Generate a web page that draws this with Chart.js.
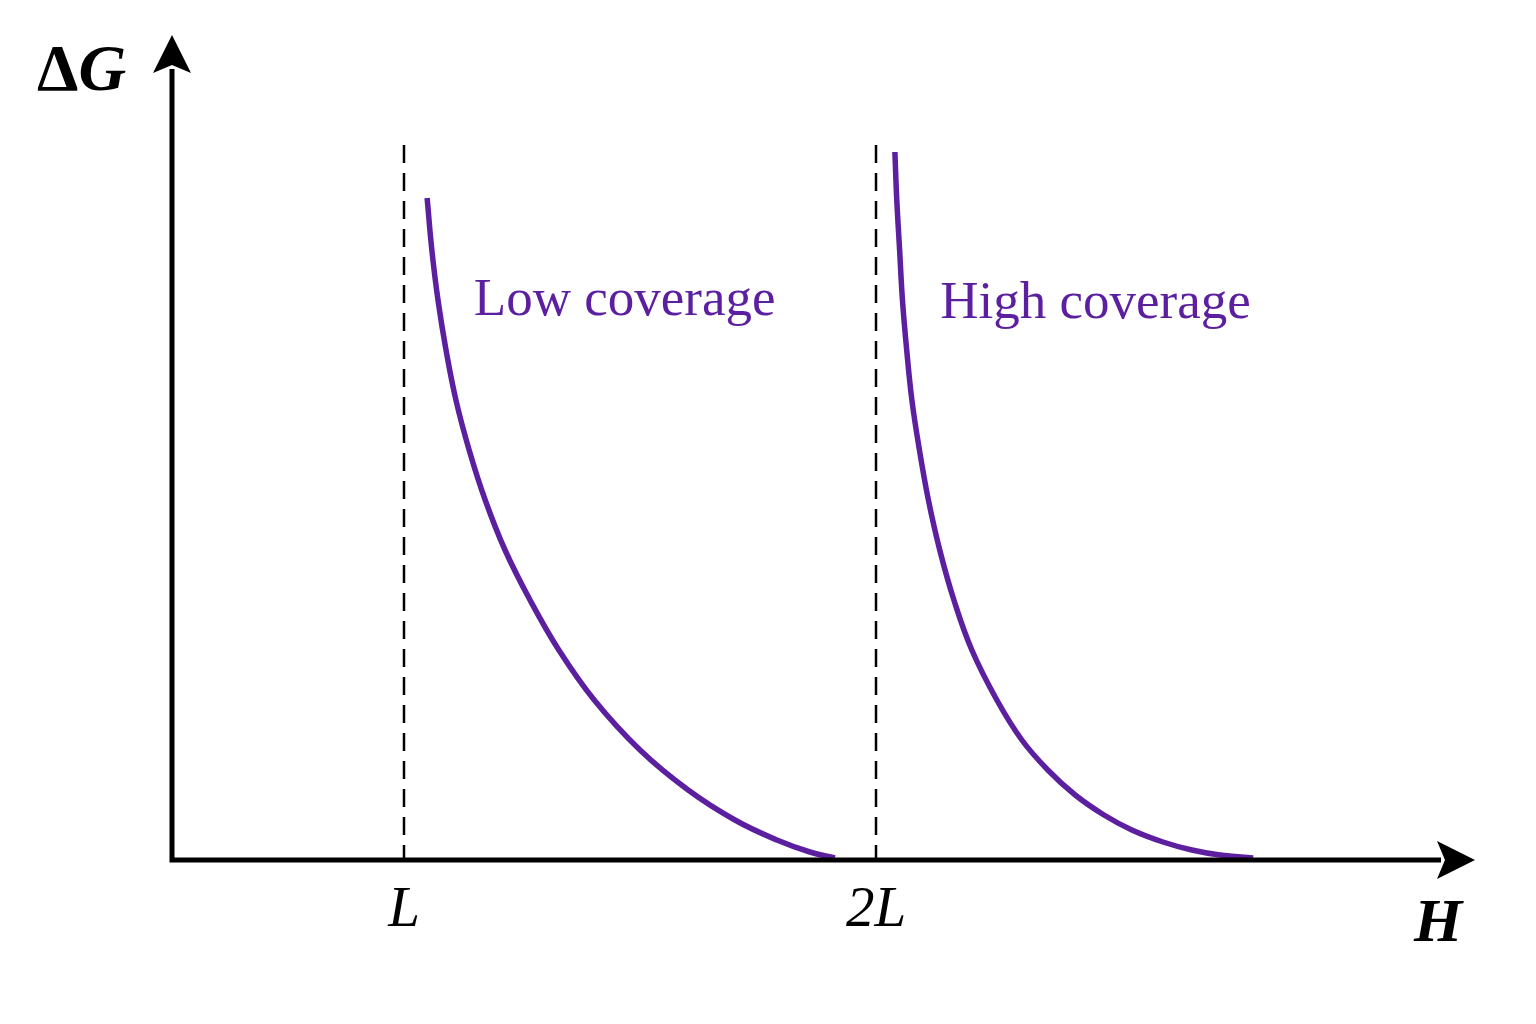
<!DOCTYPE html>
<html>
<head>
<meta charset="utf-8">
<script src="https://cdn.jsdelivr.net/npm/chart.js@4.4.1/dist/chart.umd.min.js"></script>
<style>
  html, body { margin: 0; padding: 0; background: #fff; }
  #chart { display: block; }
</style>
</head>
<body>
<canvas id="chart" width="1536" height="1024"></canvas>
<script>
// H in units of L, dG in arbitrary units
var lowX  = [1.049, 1.059, 1.072, 1.089, 1.110, 1.138, 1.172, 1.214, 1.267, 1.328, 1.403, 1.500, 1.602, 1.701, 1.790, 1.860, 1.913];
var lowY  = [6.62, 6.10, 5.60, 5.10, 4.60, 4.10, 3.60, 3.10, 2.60, 2.10, 1.60, 1.10, 0.70, 0.40, 0.20, 0.08, 0.02];
var highX = [2.040, 2.044, 2.050, 2.056, 2.065, 2.076, 2.092, 2.111, 2.135, 2.165, 2.203, 2.256, 2.309, 2.364, 2.422, 2.483, 2.542, 2.608, 2.669, 2.729, 2.799];
var highY = [7.08, 6.60, 6.10, 5.60, 5.10, 4.60, 4.10, 3.60, 3.10, 2.60, 2.10, 1.60, 1.20, 0.90, 0.65, 0.45, 0.30, 0.18, 0.10, 0.05, 0.02];

var tickValues = [1, 2];
var tickLabels = ['L', '2L'];
var dashTop = 7.15;

var xMin = 0.5085, xMax = 3.269;
var yMin = 0, yMax = 8.25;

var purple = '#5b1fa0';
var serif = '"Liberation Serif", "DejaVu Serif", serif';

function toPoints(xs, ys) {
    return xs.map(function(x, i) { return { x: x, y: ys[i] }; });
}

// axes with arrow heads, tick labels and text labels
var decorations = {
    id: 'decorations',
    afterDatasetsDraw: function(chart) {
        var ctx = chart.ctx;
        var xs = chart.scales.x, ys = chart.scales.y;
        var x0 = xs.getPixelForValue(xMin);
        var y0 = ys.getPixelForValue(0);
        var xEnd = xs.getPixelForValue(xMax);
        var yEnd = ys.getPixelForValue(yMax);
        var head = 38, half = 19;

        ctx.save();
        ctx.strokeStyle = '#000';
        ctx.fillStyle = '#000';
        ctx.lineWidth = 5;
        ctx.lineCap = 'butt';

        ctx.beginPath();
        ctx.moveTo(x0 - 2.5, y0);
        ctx.lineTo(xEnd - head + 4, y0);
        ctx.moveTo(x0, y0 + 2.5);
        ctx.lineTo(x0, yEnd + head - 4);
        ctx.stroke();

        // x arrow
        ctx.beginPath();
        ctx.moveTo(xEnd, y0);
        ctx.lineTo(xEnd - head, y0 - half);
        ctx.lineTo(xEnd - head + 8, y0);
        ctx.lineTo(xEnd - head, y0 + half);
        ctx.closePath();
        ctx.fill();

        // y arrow
        ctx.beginPath();
        ctx.moveTo(x0, yEnd);
        ctx.lineTo(x0 - half, yEnd + head);
        ctx.lineTo(x0, yEnd + head - 8);
        ctx.lineTo(x0 + half, yEnd + head);
        ctx.closePath();
        ctx.fill();

        // tick labels
        ctx.font = 'italic 57px ' + serif;
        ctx.textAlign = 'center';
        ctx.textBaseline = 'alphabetic';
        tickValues.forEach(function(v, i) {
            ctx.fillText(tickLabels[i], xs.getPixelForValue(v), y0 + 66);
        });

        // axis titles
        ctx.font = 'bold italic 62px ' + serif;
        ctx.fillText('H', xEnd - 37, y0 + 81);

        ctx.textAlign = 'left';
        ctx.font = 'bold 66px ' + serif;
        var dw = ctx.measureText('\u0394').width;
        var gx = x0 - 135;
        ctx.fillText('\u0394', gx, yEnd + 55);
        ctx.font = 'bold italic 66px ' + serif;
        ctx.fillText('G', gx + dw, yEnd + 55);

        // curve labels
        ctx.fillStyle = purple;
        ctx.font = '53px ' + serif;
        ctx.fillText('Low coverage', xs.getPixelForValue(1.148), ys.getPixelForValue(5.45));
        ctx.fillText('High coverage', xs.getPixelForValue(2.136), ys.getPixelForValue(5.42));
        ctx.restore();
    }
};

var dashStyle = {
    borderColor: '#000',
    borderWidth: 2.5,
    borderDash: [18, 10],
    pointRadius: 0,
    fill: false
};

var curveStyle = {
    borderColor: purple,
    borderWidth: 5.5,
    pointRadius: 0,
    fill: false,
    tension: 0.4
};

var datasets = tickValues.map(function(v) {
    return Object.assign({ data: [{ x: v, y: dashTop }, { x: v, y: 0 }] }, dashStyle);
});
datasets.push(Object.assign({ label: 'Low coverage', data: toPoints(lowX, lowY) }, curveStyle));
datasets.push(Object.assign({ label: 'High coverage', data: toPoints(highX, highY) }, curveStyle));

new Chart(document.getElementById('chart').getContext('2d'), {
    type: 'line',
    data: { datasets: datasets },
    options: {
        responsive: false,
        animation: false,
        layout: { padding: { left: 172, right: 61, top: 35, bottom: 164 } },
        plugins: {
            legend: { display: false },
            tooltip: { enabled: false }
        },
        scales: {
            x: { type: 'linear', min: xMin, max: xMax, display: false },
            y: { type: 'linear', min: yMin, max: yMax, display: false }
        }
    },
    plugins: [decorations]
});
</script>
</body>
</html>
